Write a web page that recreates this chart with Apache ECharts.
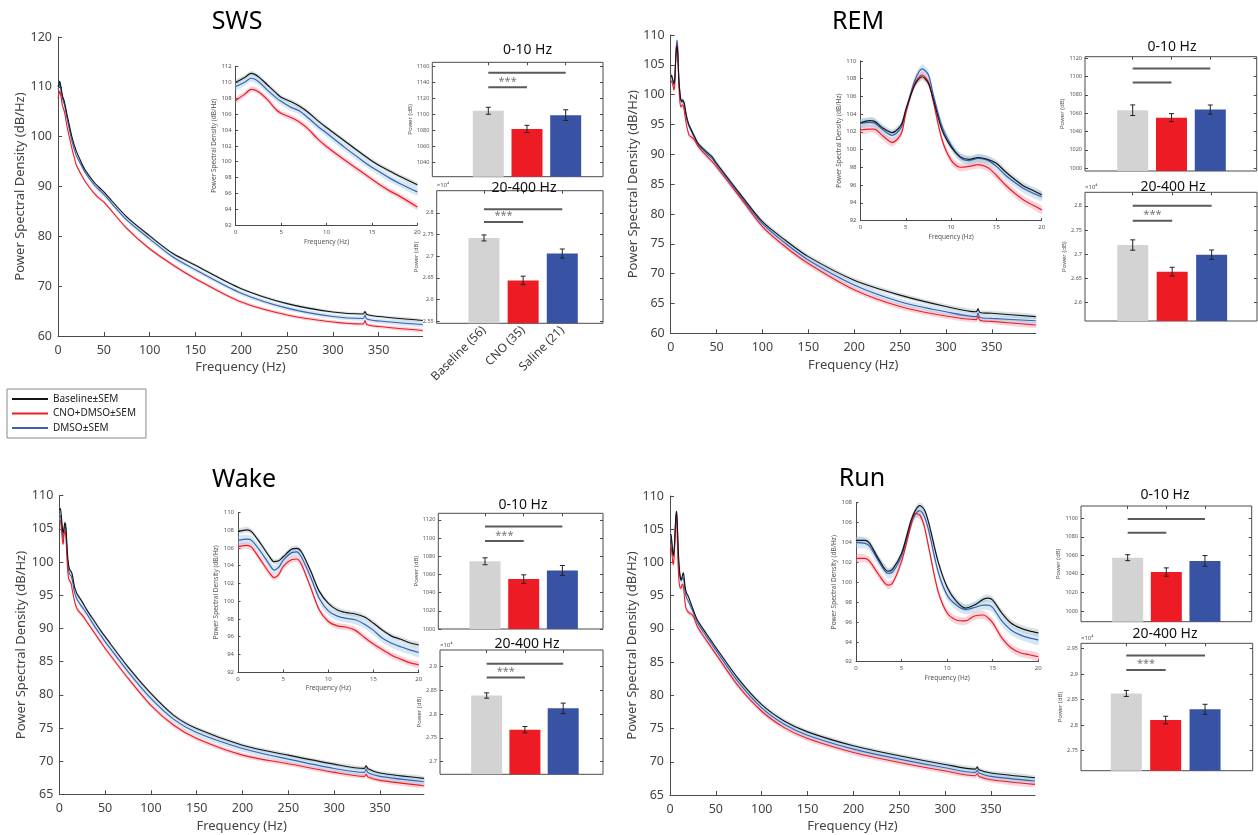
<!DOCTYPE html>
<html><head><meta charset="utf-8">
<script src="https://cdn.jsdelivr.net/npm/echarts@6/dist/echarts.min.js"></script>
<style>html,body{margin:0;padding:0;background:#fff}#c{width:1258px;height:835px}</style>
</head><body><div id="c"></div>
<script>
// ---------------- DATA ----------------
const groupNames = ['Baseline±SEM', 'CNO+DMSO±SEM', 'DMSO±SEM'];
const barCategories = ['Baseline (56)', 'CNO (35)', 'Saline (21)'];
const stateNames = ['SWS', 'REM', 'Wake', 'Run'];

const highFreq = [25,30,40,45,50,75,100,125,150,200,250,300,333,335,337,350,398];

const swsLowFreq = [0,1,1.7,2.5,3.5,4.5,5,6,7,8,9,10,12,14,15,16,17,18,20];
const swsLowBaseline = [110.0,110.6,111.1,110.7,109.65,108.6,108.1,107.6,107.0,106.2,105.2,104.3,102.6,100.9,100.1,99.4,98.8,98.2,97.1];
const swsLowCno = [107.7,108.5,109.1,108.8,107.8,106.5,106.1,105.6,105.0,104.1,102.9,101.9,100.2,98.6,97.8,97.0,96.3,95.7,94.3];
const swsLowDmso = [109.45,110.0,110.5,110.1,109.0,108.0,107.6,106.9,106.4,105.5,104.5,103.6,101.8,100.1,99.3,98.6,97.9,97.3,96.2];
const swsHighBaseline = [95.0,93.2,90.7,89.8,88.9,83.9,80.1,76.6,74.2,69.5,66.5,64.8,64.4,64.9,64.3,63.9,63.1];
const swsHighCno = [92.5,90.9,88.5,87.6,86.9,81.6,77.5,74.3,71.5,66.8,64.2,62.8,62.4,63.1,62.3,61.9,61.1];
const swsHighDmso = [94.4,92.7,90.2,89.3,88.4,83.3,79.5,75.9,73.3,68.6,65.6,63.9,63.5,64.2,63.4,63.0,62.3];
const swsSem = [0.3, 0.35, 0.45];

const remLowFreq = [0,1,1.5,2.5,3.5,4.5,5,6,6.8,7.5,8,9,10,11,12,13,14,15,16,17,18,19,20];
const remLowBaseline = [103.0,103.25,103.2,102.4,101.9,102.8,104.5,107.3,108.2,107.45,105.8,102.2,100.3,99.2,98.9,99.1,98.9,98.45,97.5,96.65,95.9,95.4,94.9];
const remLowCno = [102.2,102.3,102.3,101.5,100.8,101.8,104.1,107.45,108.4,107.6,105.6,101.1,98.8,98.0,98.1,98.3,98.0,97.1,96.0,95.1,94.3,93.75,93.2];
const remLowDmso = [102.95,103.05,103.0,102.2,101.6,102.5,104.3,107.8,109.1,108.4,106.3,102.6,100.5,99.1,98.75,99.0,98.8,98.1,97.1,96.3,95.6,95.1,94.7];
const remHighBaseline = [93.3,91.8,90.3,89.6,88.5,83.5,78.7,75.6,72.85,68.9,66.4,64.5,63.6,64.1,63.5,63.35,62.8];
const remHighCno = [92.6,91.3,89.6,88.8,87.9,82.9,77.9,74.5,71.7,67.3,64.5,62.9,62.3,62.9,62.2,62.0,61.4];
const remHighDmso = [93.1,91.6,90.0,89.3,88.3,83.2,78.4,75.1,72.3,68.1,65.3,63.6,62.8,63.4,62.7,62.5,62.1];
const remSem = [0.4, 0.45, 0.5];

const wakeLowFreq = [0,1,1.5,2.5,3.5,4,4.5,5,6,6.5,7,8,9,10,11,12,13,14,15,16,17,18,19,20];
const wakeLowBaseline = [107.85,108.05,107.85,106.5,105.0,104.45,104.55,105.0,105.9,105.95,105.6,103.5,101.1,99.75,99.0,98.7,98.55,98.2,97.5,96.7,96.05,95.7,95.3,95.05];
const wakeLowCno = [106.15,106.3,106.1,104.65,103.15,102.65,103.0,103.9,104.7,104.75,104.2,101.65,99.0,97.7,97.2,97.05,96.7,95.9,95.15,94.5,93.9,93.45,93.05,92.8];
const wakeLowDmso = [106.85,107.0,106.85,105.6,104.1,103.5,103.8,104.6,105.5,105.55,105.0,102.8,100.3,98.9,98.3,98.05,97.9,97.4,96.7,95.8,95.25,94.85,94.5,94.2];
const wakeHighBaseline = [94.0,92.8,90.75,89.7,88.75,84.2,80.2,76.9,74.9,72.4,70.9,69.55,68.9,69.3,68.85,68.2,67.4];
const wakeHighCno = [92.0,91.0,89.0,88.0,87.0,82.5,78.4,75.4,73.4,70.9,69.6,68.3,67.7,68.0,67.6,67.1,66.3];
const wakeHighDmso = [93.2,92.2,90.0,89.0,88.0,83.5,79.45,76.3,74.3,71.9,70.3,68.9,68.3,68.8,68.25,67.7,66.9];
const wakeSem = [0.3, 0.35, 0.5];

const runLowFreq = [0,1,1.5,2.5,3.5,4,5,6,6.5,7,7.5,8,9,10,11,12,13,14,14.5,15,16,17,18,19,20];
const runLowBaseline = [104.2,104.2,103.9,102.3,101.1,101.3,102.9,106.1,107.2,107.7,107.3,105.9,102.1,99.5,98.1,97.4,97.7,98.3,98.4,98.2,96.9,95.9,95.4,95.1,94.9];
const runLowCno = [102.4,102.4,102.1,100.75,99.7,99.9,102.1,105.6,106.9,106.75,105.6,103.4,99.1,96.9,96.2,96.1,96.6,96.7,96.4,95.9,94.4,93.4,92.9,92.7,92.5];
const runLowDmso = [104.0,103.9,103.6,102.1,100.9,101.0,102.65,105.8,106.8,107.2,106.6,105.1,101.1,98.7,97.7,97.25,97.45,97.7,97.7,97.45,96.1,95.2,94.7,94.4,94.2];
const runHighBaseline = [93.0,91.3,89.2,88.2,87.2,82.4,78.6,76.1,74.5,72.4,70.9,69.6,68.9,69.2,68.8,68.3,67.6];
const runHighCno = [92.0,90.3,88.2,87.2,86.2,81.3,77.6,75.1,73.5,71.4,69.9,68.6,67.9,68.2,67.8,67.3,66.6];
const runHighDmso = [92.6,90.9,88.8,87.8,86.8,81.9,78.1,75.6,74.0,71.9,70.4,69.1,68.4,68.7,68.3,67.8,67.1];
const runSem = [0.35, 0.4, 0.5];

// band power bars (mean, SEM), order: Baseline, CNO, Saline
const swsPow010Mean = [1104.5, 1081.6, 1099.0];
const swsPow010Sem = [4.4, 4.6, 6.7];
const swsPow20400Mean = [2.742, 2.644, 2.706];
const swsPow20400Sem = [0.0069, 0.0097, 0.0104];
const remPow010Mean = [1063.3, 1055.2, 1064.0];
const remPow010Sem = [5.8, 4.4, 5.0];
const remPow20400Mean = [2.719, 2.664, 2.699];
const remPow20400Sem = [0.0107, 0.009, 0.0097];
const wakePow010Mean = [1074.5, 1054.9, 1064.4];
const wakePow010Sem = [3.8, 4.7, 5.5];
const wakePow20400Mean = [2.839, 2.767, 2.812];
const wakePow20400Sem = [0.0056, 0.0067, 0.011];
const runPow010Mean = [1057.5, 1042.0, 1054.0];
const runPow010Sem = [3.2, 4.5, 5.8];
const runPow20400Mean = [2.862, 2.810, 2.831];
const runPow20400Sem = [0.0059, 0.0075, 0.0098];

// significance bar levels [Baseline-Saline, Baseline-CNO] and star flags
const swsSig010 = [1152.5, 1134.2], swsSig20400 = [2.808, 2.779];
const remSig010 = [1108.7, 1093.5], remSig20400 = [2.800, 2.769];
const wakeSig010 = [1112.7, 1096.7], wakeSig20400 = [2.906, 2.877];
const runSig010 = [1099.2, 1084.3], runSig20400 = [2.936, 2.908];
const swsStars = [true, true], remStars = [false, true], wakeStars = [true, true], runStars = [false, true];

// tick labels
const mainXTicks = [0,50,100,150,200,250,300,350];
const swsTicks010 = [1040,1060,1080,1100,1120,1140,1160];
const swsTicks20400 = [2.55,2.6,2.65,2.7,2.75,2.8];
const remTicks010 = [1000,1020,1040,1060,1080,1100,1120];
const remTicks20400 = [2.6,2.65,2.7,2.75,2.8];
const wakeTicks010 = [1000,1020,1040,1060,1080,1100,1120];
const wakeTicks20400 = [2.7,2.75,2.8,2.85,2.9];
const runTicks010 = [1000,1020,1040,1060,1080,1100];
const runTicks20400 = [2.75,2.8,2.85,2.9,2.95];

// ---------------- LAYOUT (positions / styles) ----------------
const FONT = 'Noto Sans';
const AX = '#4a4a4a';
const lineColors = ['#141414', '#ee1d25', '#3c5fb4'];
const bandColors = ['rgba(150,168,180,0.35)', 'rgba(240,110,135,0.30)', 'rgba(140,195,222,0.38)'];
const barColors = ['#d3d3d3', '#ed1c24', '#3953a4'];

const panels = [
  { name: 'SWS', lowF: swsLowFreq, low: [swsLowBaseline, swsLowCno, swsLowDmso], high: [swsHighBaseline, swsHighCno, swsHighDmso], sem: swsSem,
    main: {l:58, t:37, w:364.7, h:299, ymin:60, ymax:120, yint:10},
    inset: {l:235.7, t:66.3, w:181.6, h:159, ymin:92, ymax:112},
    bar1: {l:432.3, t:62.3, w:170.7, h:114.4, xmin:-0.447, xmax:3.964, ymin:1021.5, ymax:1165.5},
    bar2: {l:436.7, t:190.7, w:166.3, h:132.6, xmin:-0.208, xmax:4.04, ymin:2.545, ymax:2.851},
    title: [237, 9.5], t1: [527.5, 43.5], t2: [524, 181],
    p010: [swsPow010Mean, swsPow010Sem, swsTicks010, swsSig010], p20400: [swsPow20400Mean, swsPow20400Sem, swsTicks20400, swsSig20400], stars: swsStars, catLabels: true },
  { name: 'REM', lowF: remLowFreq, low: [remLowBaseline, remLowCno, remLowDmso], high: [remHighBaseline, remHighCno, remHighDmso], sem: remSem,
    main: {l:670.7, t:35, w:365.1, h:298.3, ymin:60, ymax:110, yint:5},
    inset: {l:860.5, t:60.8, w:181.2, h:159.7, ymin:92, ymax:110},
    bar1: {l:1085, t:56.7, w:171.7, h:114.3, xmin:-0.229, xmax:4.196, ymin:997, ymax:1121.7},
    bar2: {l:1085, t:192.3, w:172, h:128.7, xmin:-0.21, xmax:4.15, ymin:2.562, ymax:2.828},
    title: [858, 9.5], t1: [1172, 40.5], t2: [1173, 180],
    p010: [remPow010Mean, remPow010Sem, remTicks010, remSig010], p20400: [remPow20400Mean, remPow20400Sem, remTicks20400, remSig20400], stars: remStars },
  { name: 'Wake', lowF: wakeLowFreq, low: [wakeLowBaseline, wakeLowCno, wakeLowDmso], high: [wakeHighBaseline, wakeHighCno, wakeHighDmso], sem: wakeSem,
    main: {l:59.3, t:495.7, w:364.6, h:298.6, ymin:65, ymax:110, yint:5},
    inset: {l:238, t:512.5, w:180.7, h:159.5, ymin:92, ymax:110},
    bar1: {l:438.3, t:513.3, w:164.7, h:115.7, xmin:-0.208, xmax:4.05, ymin:1000, ymax:1127.3},
    bar2: {l:440, t:650, w:163, h:124.3, xmin:-0.219, xmax:4.04, ymin:2.673, ymax:2.935},
    title: [244, 467.5], t1: [523, 498.5], t2: [527, 637],
    p010: [wakePow010Mean, wakePow010Sem, wakeTicks010, wakeSig010], p20400: [wakePow20400Mean, wakePow20400Sem, wakeTicks20400, wakeSig20400], stars: wakeStars },
  { name: 'Run', lowF: runLowFreq, low: [runLowBaseline, runLowCno, runLowDmso], high: [runHighBaseline, runHighCno, runHighDmso], sem: runSem,
    main: {l:670, t:496, w:365, h:299, ymin:65, ymax:110, yint:5},
    inset: {l:856, t:502.7, w:182.3, h:159, ymin:92, ymax:108},
    bar1: {l:1081, t:506, w:170.7, h:115.7, xmin:-0.208, xmax:4.21, ymin:988.4, ymax:1113.3},
    bar2: {l:1081, t:643.3, w:171.7, h:127.4, xmin:-0.15, xmax:4.21, ymin:2.711, ymax:2.96},
    title: [862, 466], t1: [1165, 488.5], t2: [1165, 627.5],
    p010: [runPow010Mean, runPow010Sem, runTicks010, runSig010], p20400: [runPow20400Mean, runPow20400Sem, runTicks20400, runSig20400], stars: runStars }
];

// ---------------- BUILD ----------------
const grids = [], xAxes = [], yAxes = [], series = [], titles = [];
const addGrid = g => (grids.push(g), grids.length - 1);
const addX = a => (xAxes.push(a), xAxes.length - 1);
const addY = a => (yAxes.push(a), yAxes.length - 1);
const txt = (size, color) => ({ fontSize: size, color: color || '#444', fontFamily: FONT });

function addBand(xi, yi, freq, vals, sem, color) {
  series.push({ type: 'custom', xAxisIndex: xi, yAxisIndex: yi, silent: true, z: 1, clip: true,
    data: freq.map((f, i) => [f, vals[i] - sem, vals[i] + sem]),
    renderItem: (params, api) => {
      if (params.dataIndex !== 0) return null;
      const up = freq.map((f, i) => api.coord([f, vals[i] + sem]));
      const lo = freq.map((f, i) => api.coord([f, vals[i] - sem])).reverse();
      return { type: 'polygon', shape: { points: up.concat(lo), smooth: 0.25 }, style: { fill: color } };
    } });
}

function addCurves(xi, yi, freq, curves, sems, width) {
  [0, 1, 2].forEach(j => addBand(xi, yi, freq, curves[j], sems[j], bandColors[j]));
  [2, 1, 0].forEach(j => {
    series.push({ type: 'line', name: groupNames[j], xAxisIndex: xi, yAxisIndex: yi, symbol: 'none', smooth: 0.3, silent: true, z: 3,
      color: lineColors[j],
      lineStyle: { width: width, color: lineColors[j] }, itemStyle: { color: lineColors[j] },
      data: freq.map((f, i) => [f, curves[j][i]]) });
  });
}

function errRender(params, api) {
  const x = api.value(0), lo = api.value(1), hi = api.value(2);
  const a = api.coord([x, hi]), b = api.coord([x, lo]), c = 2.5;
  const st = { stroke: '#222', lineWidth: 1 };
  return { type: 'group', children: [
    { type: 'line', shape: { x1: a[0], y1: a[1], x2: b[0], y2: b[1] }, style: st },
    { type: 'line', shape: { x1: a[0] - c, y1: a[1], x2: a[0] + c, y2: a[1] }, style: st },
    { type: 'line', shape: { x1: b[0] - c, y1: b[1], x2: b[0] + c, y2: b[1] }, style: st }
  ] };
}

function addBarPanel(lay, pw, stars, catLabels, sci) {
  const [means, sems, ticks, sig] = pw;
  const gi = addGrid({ left: lay.l, top: lay.t, width: lay.w, height: lay.h, show: true, borderColor: AX, borderWidth: 1, backgroundColor: 'transparent' });
  const tick = cv => ({ show: true, inside: true, length: 3, customValues: cv, lineStyle: { color: AX } });
  const xi = addX({ type: 'value', gridIndex: gi, min: lay.xmin, max: lay.xmax, axisLine: { show: false, onZero: false }, splitLine: { show: false },
    axisTick: tick([1, 2, 3]),
    axisLabel: catLabels ? { show: true, customValues: [1, 2, 3], rotate: 45, margin: 5, ...txt(12, '#3a3a3a'),
      formatter: v => barCategories[Math.round(v) - 1] } : { show: false } });
  addX({ type: 'value', gridIndex: gi, position: 'top', min: lay.xmin, max: lay.xmax, axisLine: { show: false, onZero: false }, splitLine: { show: false },
    axisTick: tick([1, 2, 3]), axisLabel: { show: false } });
  const yi = addY({ type: 'value', gridIndex: gi, position: 'left', min: lay.ymin, max: lay.ymax, axisLine: { show: false, onZero: false }, splitLine: { show: false },
    axisTick: tick(ticks),
    axisLabel: { customValues: ticks, margin: 3, ...txt(5.5, '#555'), formatter: v => String(parseFloat(v.toFixed(2))) },
    name: 'Power (dB)', nameLocation: 'middle', nameGap: 14, nameTextStyle: txt(6, '#555') });
  addY({ type: 'value', gridIndex: gi, position: 'right', min: lay.ymin, max: lay.ymax, axisLine: { show: false, onZero: false }, splitLine: { show: false },
    axisTick: tick(ticks), axisLabel: { show: false } });
  series.push({ type: 'bar', xAxisIndex: xi, yAxisIndex: yi, barWidth: 31, silent: true, z: 2,
    data: means.map((m, i) => ({ value: [i + 1, m], itemStyle: { color: barColors[i] } })) });
  series.push({ type: 'custom', xAxisIndex: xi, yAxisIndex: yi, silent: true, z: 4, renderItem: errRender,
    data: means.map((m, i) => [i + 1, m - sems[i], m + sems[i]]) });
  series.push({ type: 'line', xAxisIndex: xi, yAxisIndex: yi, symbol: 'none', silent: true, z: 4,
    lineStyle: { color: '#5a5a5a', width: 2 }, data: [[1, sig[0]], [3, sig[0]]] });
  series.push({ type: 'line', xAxisIndex: xi, yAxisIndex: yi, symbol: 'none', silent: true, z: 4,
    lineStyle: { color: '#5a5a5a', width: 2 }, data: [[1, sig[1]], [2, sig[1]]] });
  if (stars) {
    series.push({ type: 'scatter', xAxisIndex: xi, yAxisIndex: yi, symbolSize: 0.1, silent: true, z: 5,
      itemStyle: { color: 'rgba(0,0,0,0)' },
      label: { show: true, formatter: '***', position: 'top', distance: 0, ...txt(11, '#555') },
      data: [[1.5, sig[1]]] });
  }
  if (sci) {
    titles.push({ text: '×10⁴', left: lay.l, top: lay.t - 8, padding: 0, textStyle: { ...txt(6, '#555'), fontWeight: 'normal' } });
  }
}

panels.forEach(p => {
  // main PSD plot
  const gm = addGrid({ left: p.main.l, top: p.main.t, width: p.main.w, height: p.main.h });
  const xm = addX({ type: 'value', gridIndex: gm, min: 0, max: 398, splitLine: { show: false },
    axisLine: { onZero: false, lineStyle: { color: AX, width: 1 } },
    axisTick: { inside: true, length: 4, customValues: mainXTicks, lineStyle: { color: AX } },
    axisLabel: { customValues: mainXTicks, margin: 8, ...txt(12.5) },
    name: 'Frequency (Hz)', nameLocation: 'middle', nameGap: 25, nameTextStyle: txt(13) });
  const ym = addY({ type: 'value', gridIndex: gm, min: p.main.ymin, max: p.main.ymax, interval: p.main.yint, splitLine: { show: false },
    axisLine: { show: true, onZero: false, lineStyle: { color: AX, width: 1 } },
    axisTick: { show: true, inside: true, length: 4, lineStyle: { color: AX } },
    axisLabel: { margin: 6, ...txt(12.5) },
    name: 'Power Spectral Density (dB/Hz)', nameLocation: 'middle', nameGap: 31, nameTextStyle: txt(13) });
  const fullF = p.lowF.concat(highFreq);
  addCurves(xm, ym, fullF, [0, 1, 2].map(j => p.low[j].concat(p.high[j])), p.sem, 1.1);

  // inset 0-20 Hz
  const gi = addGrid({ left: p.inset.l, top: p.inset.t, width: p.inset.w, height: p.inset.h });
  const xi = addX({ type: 'value', gridIndex: gi, min: 0, max: 20, interval: 5, splitLine: { show: false },
    axisLine: { onZero: false, lineStyle: { color: AX, width: 1 } },
    axisTick: { inside: true, length: 2.5, lineStyle: { color: AX } },
    axisLabel: { margin: 4, ...txt(6, '#555') },
    name: 'Frequency (Hz)', nameLocation: 'middle', nameGap: 13, nameTextStyle: txt(6.5, '#555') });
  const yi = addY({ type: 'value', gridIndex: gi, min: p.inset.ymin, max: p.inset.ymax, interval: 2, splitLine: { show: false },
    axisLine: { show: true, onZero: false, lineStyle: { color: AX, width: 1 } },
    axisTick: { show: true, inside: true, length: 2.5, lineStyle: { color: AX } },
    axisLabel: { margin: 4, ...txt(6, '#555') },
    name: 'Power Spectral Density (dB/Hz)', nameLocation: 'middle', nameGap: 16, nameTextStyle: txt(6.5, '#555') });
  addCurves(xi, yi, p.lowF, p.low, p.sem, 1.2);

  // bars
  addBarPanel(p.bar1, p.p010, p.stars[0], false, false);
  addBarPanel(p.bar2, p.p20400, p.stars[1], !!p.catLabels, true);

  // titles
  titles.push({ text: p.name, left: p.title[0], top: p.title[1], textAlign: 'center', padding: 0,
    textStyle: { fontSize: 25, fontWeight: 'normal', color: '#000', fontFamily: FONT } });
  titles.push({ text: '0-10 Hz', left: p.t1[0], top: p.t1[1], textAlign: 'center', padding: 0,
    textStyle: { fontSize: 14, fontWeight: 'normal', color: '#111', fontFamily: FONT } });
  titles.push({ text: '20-400 Hz', left: p.t2[0], top: p.t2[1], textAlign: 'center', padding: 0,
    textStyle: { fontSize: 14, fontWeight: 'normal', color: '#111', fontFamily: FONT } });
});

const chart = echarts.init(document.getElementById('c'), null, { renderer: 'canvas' });
chart.setOption({
  animation: false,
  backgroundColor: '#fff',
  textStyle: { fontFamily: FONT },
  title: titles,
  legend: {
    data: groupNames,
    left: 7, top: 389, orient: 'vertical', itemWidth: 36, itemHeight: 10, itemGap: 2.5,
    padding: [4, 10, 4, 4], borderColor: '#888', borderWidth: 1, backgroundColor: '#fff', selectedMode: false,
    itemStyle: { opacity: 0 },
    textStyle: { fontSize: 10, color: '#222', fontFamily: FONT, lineHeight: 12 }
  },
  grid: grids, xAxis: xAxes, yAxis: yAxes, series: series
});
</script></body></html>
